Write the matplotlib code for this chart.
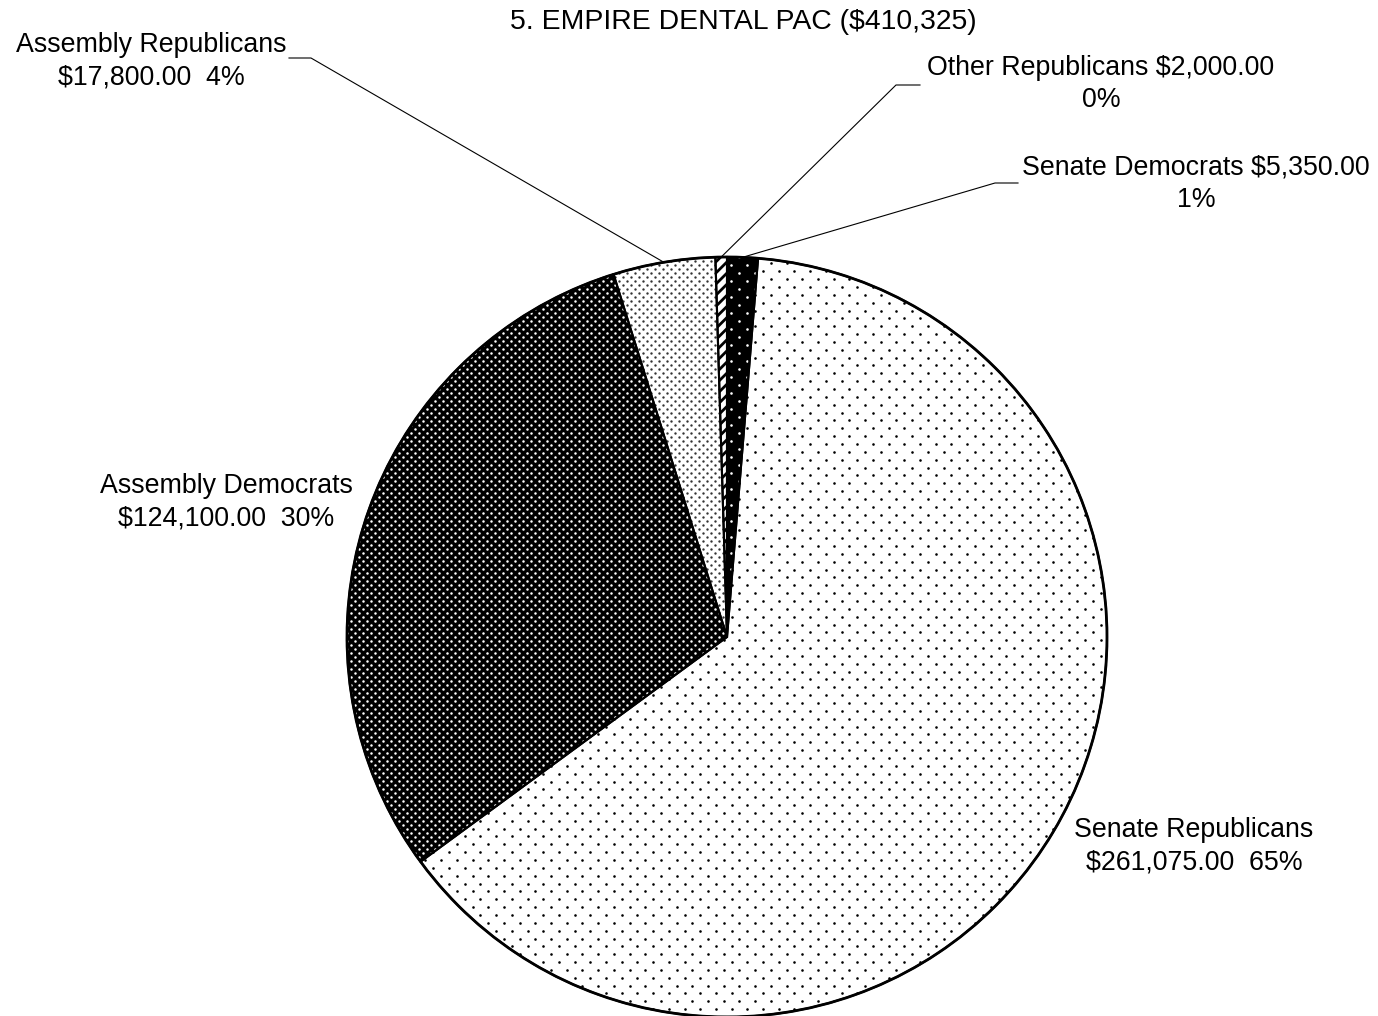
import numpy as np
import matplotlib
matplotlib.use("Agg")
import matplotlib.pyplot as plt
from matplotlib.patches import Circle

# ---- data ----
title = "5. EMPIRE DENTAL PAC ($410,325)"
categories = ["Senate Democrats", "Senate Republicans", "Assembly Democrats",
              "Assembly Republicans", "Other Republicans"]
values = [5350.00, 261075.00, 124100.00, 17800.00, 2000.00]
pct_labels = ["1%", "65%", "30%", "4%", "0%"]

W, H = 1378, 1016
plt.rcParams['font.family'] = ['Liberation Sans', 'DejaVu Sans']
plt.rcParams['hatch.linewidth'] = 2.0

fig = plt.figure(figsize=(W / 100, H / 100), dpi=100)
ax = fig.add_axes([0, 0, 1, 1])

def Y(y):
    return H - y

cx, cy, R = 727, Y(637), 380

face = ["black", "white", "black", "white", "white"]
wedges, _ = ax.pie(values, startangle=90, counterclock=False, center=(cx, cy),
                   radius=R, colors=face, wedgeprops=dict(linewidth=0))
wedges[4].set_hatch('///')
wedges[4].set_edgecolor('black')
wedges[4].set_linewidth(0)

# dot textures (style only)
tex = {0: (16, 2.6, "white"), 1: (15.7, 2.6, "black"),
       2: (8, 2.5, "white"), 3: (8, 2.4, "#333333")}
for i, (sp, d, col) in tex.items():
    rows = np.arange(cy - R - sp, cy + R + sp, sp / 2)
    px, py = [], []
    for k, yy in enumerate(rows):
        off = 0 if k % 2 == 0 else sp / 2
        xs = np.arange(cx - R - sp + off, cx + R + sp, sp)
        px.extend(xs)
        py.extend([yy] * len(xs))
    sc = ax.scatter(px, py, s=(d * 0.72) ** 2, c=col, linewidths=0, zorder=3)
    sc.set_clip_path(wedges[i])

# outlines
ax.pie(values, startangle=90, counterclock=False, center=(cx, cy), radius=R,
       wedgeprops=dict(fill=False, edgecolor="black", linewidth=1.5, zorder=4))
ax.add_patch(Circle((cx, cy), R, fill=False, edgecolor="black", linewidth=2.0, zorder=5))

ax.set_xlim(0, W)
ax.set_ylim(0, H)
ax.set_aspect('equal')
ax.axis('off')

fs = 19.3
ax.text(743, Y(22), title, ha='center', va='center', fontsize=20.4)

labels = {
    0: (categories[0] + " ${:,.2f}".format(values[0]) + "\n" + pct_labels[0], 1196, 184),
    1: (categories[1] + "\n${:,.2f}  ".format(values[1]) + pct_labels[1], 1194, 846),
    2: (categories[2] + "\n${:,.2f}  ".format(values[2]) + pct_labels[2], 226, 502),
    3: (categories[3] + "\n${:,.2f}  ".format(values[3]) + pct_labels[3], 151, 61),
    4: (categories[4] + " ${:,.2f}".format(values[4]) + "\n" + pct_labels[4], 1101, 84),
}
for i, (txt, x, y) in labels.items():
    ax.text(x, Y(y), txt, ha='center', va='center', fontsize=fs,
            multialignment='center', linespacing=1.32)

# leader lines: (text end, elbow) in image coords
leaders = {3: ((289, 58), (311, 58)),
           4: ((920, 85), (896, 85)),
           0: ((1018, 183), (995, 183))}
for i, ((x1, y1), (x2, y2)) in leaders.items():
    w = wedges[i]
    th = np.deg2rad((w.theta1 + w.theta2) / 2)
    ax_, ay_ = cx + R * np.cos(th), cy + R * np.sin(th)
    ax.plot([x1, x2, ax_], [Y(y1), Y(y2), ay_], color="black", lw=0.8, zorder=6)

fig.savefig("out.png", dpi=100)
